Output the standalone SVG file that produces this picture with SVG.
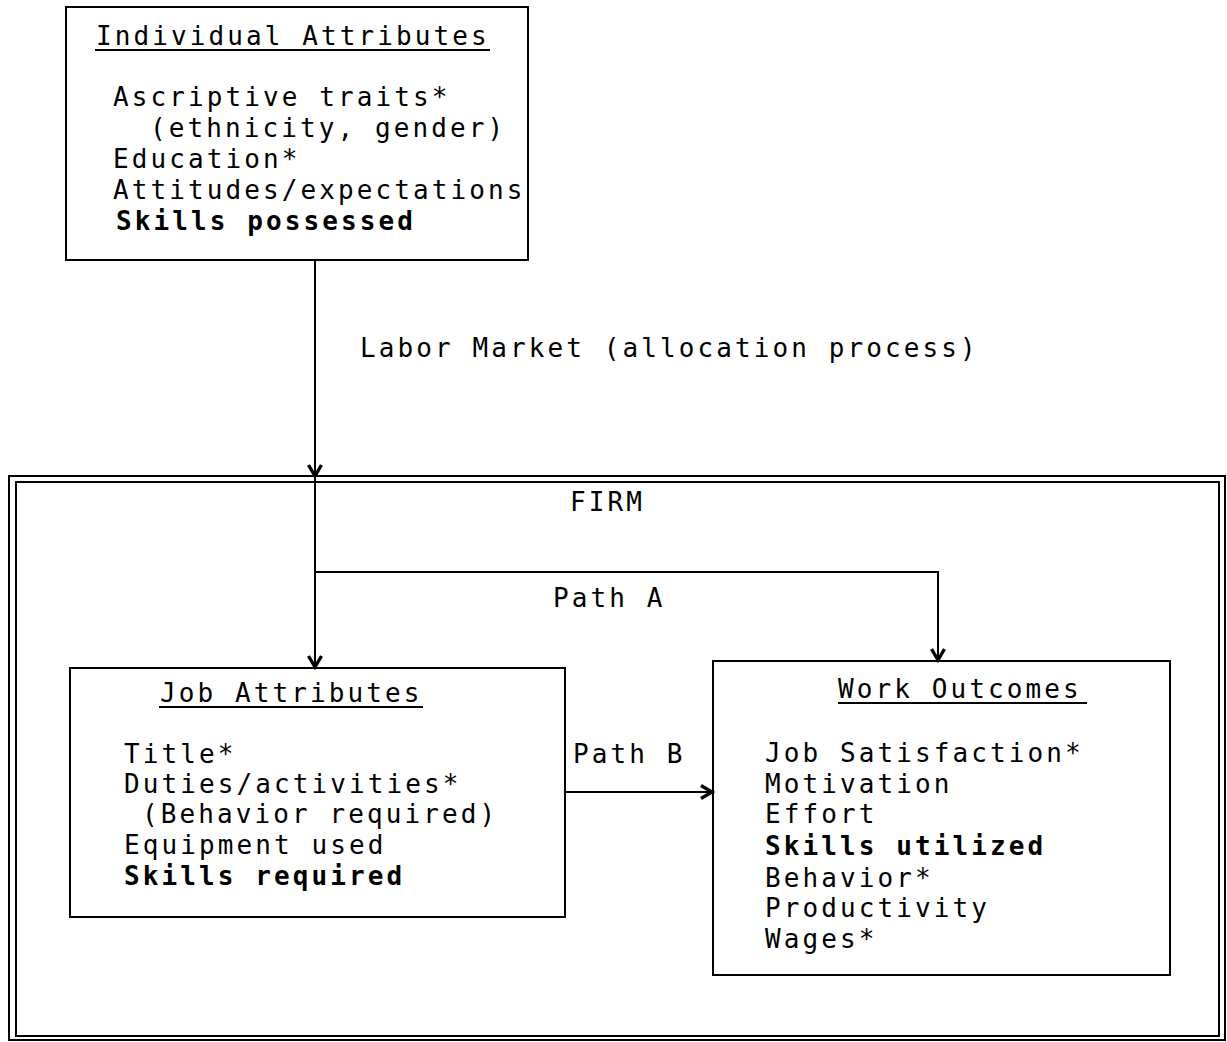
<svg xmlns="http://www.w3.org/2000/svg" width="1227" height="1042" viewBox="0 0 1227 1042">
<style>
.box{fill:none;stroke:#000;stroke-width:2}
.t{font-family:"DejaVu Sans Mono","Liberation Mono",monospace;font-size:26px;letter-spacing:3.1px;fill:#000;font-variant-ligatures:none}
.b{font-weight:bold}
.u{stroke:#000;stroke-width:1.8}
.c{fill:none;stroke:#000;stroke-width:2}
</style>
<defs>
<marker id="ah" markerWidth="18" markerHeight="18" refX="13" refY="9" orient="auto" markerUnits="userSpaceOnUse">
<polyline points="2,2.5 13,9 2,15.5" fill="none" stroke="#000" stroke-width="3.4"/>
</marker>
</defs>
<rect width="1227" height="1042" fill="#fff"/>
<g id="firm">
<rect class="box" x="9" y="476" width="1216" height="564"/>
<rect class="box" x="16" y="482" width="1203" height="554"/>
<text class="t" x="570" y="511">FIRM</text>
</g>
<g id="individual-attributes">
<rect class="box" x="66" y="7" width="462" height="253"/>
<text class="t" x="96" y="45">Individual Attributes</text>
<line class="u" x1="95" y1="50" x2="490" y2="50"/>
<text class="t" x="113" y="106">Ascriptive traits*</text>
<text class="t" x="150" y="137">(ethnicity, gender)</text>
<text class="t" x="113" y="168">Education*</text>
<text class="t" x="113" y="199">Attitudes/expectations</text>
<text class="t b" x="116" y="230">Skills possessed</text>
</g>
<g id="job-attributes">
<rect class="box" x="70" y="668" width="495" height="249"/>
<text class="t" x="160" y="702">Job Attributes</text>
<line class="u" x1="159" y1="707" x2="423" y2="707"/>
<text class="t" x="124" y="763">Title*</text>
<text class="t" x="124" y="793">Duties/activities*</text>
<text class="t" x="142" y="823">(Behavior required)</text>
<text class="t" x="124" y="854">Equipment used</text>
<text class="t b" x="124" y="885">Skills required</text>
</g>
<g id="work-outcomes">
<rect class="box" x="713" y="661" width="457" height="314"/>
<text class="t" x="838" y="698">Work Outcomes</text>
<line class="u" x1="838" y1="703" x2="1087" y2="703"/>
<text class="t" x="765" y="762">Job Satisfaction*</text>
<text class="t" x="765" y="793">Motivation</text>
<text class="t" x="765" y="823">Effort</text>
<text class="t b" x="765" y="855">Skills utilized</text>
<text class="t" x="765" y="887">Behavior*</text>
<text class="t" x="765" y="917">Productivity</text>
<text class="t" x="765" y="948">Wages*</text>
</g>
<g id="connectors">
<line class="c" x1="315" y1="260" x2="315" y2="476" marker-end="url(#ah)"/>
<line class="c" x1="315" y1="476" x2="315" y2="667" marker-end="url(#ah)"/>
<polyline class="c" points="315,572 938,572 938,660" marker-end="url(#ah)"/>
<line class="c" x1="565" y1="792" x2="712" y2="792" marker-end="url(#ah)"/>
<text class="t" x="360" y="357">Labor Market (allocation process)</text>
<text class="t" x="553" y="607">Path A</text>
<text class="t" x="573" y="763">Path B</text>
</g>
</svg>
